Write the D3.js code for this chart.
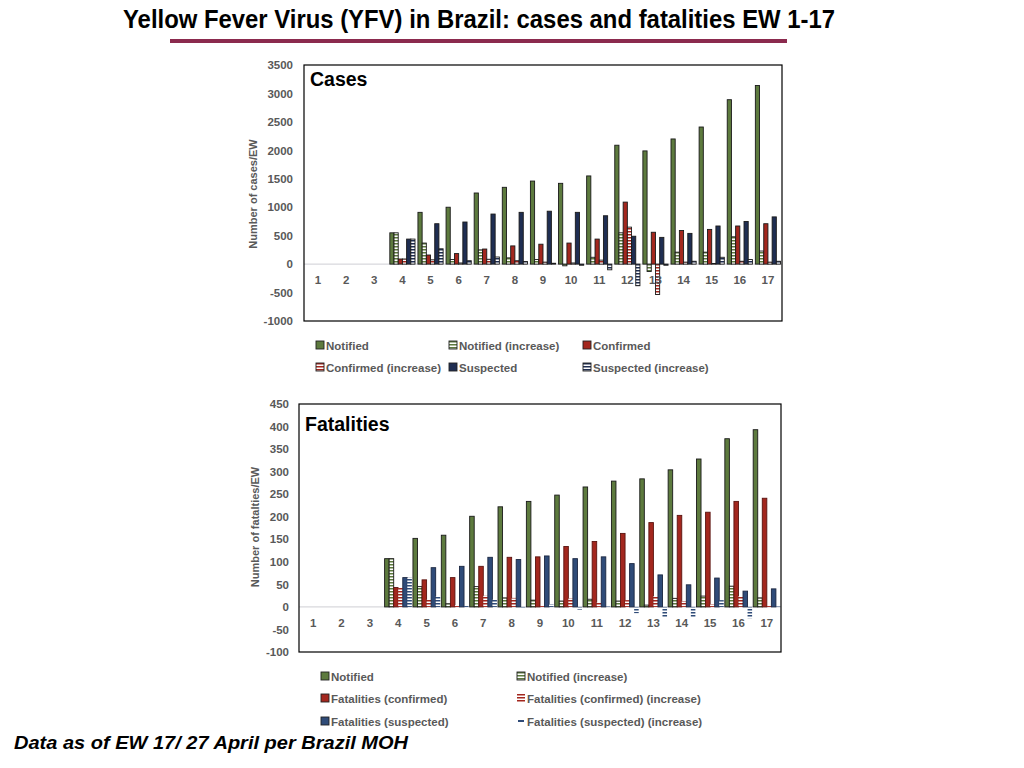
<!DOCTYPE html>
<html>
<head>
<meta charset="utf-8">
<script src="https://cdn.jsdelivr.net/npm/d3@7"></script>
<style>
  body { margin: 0; background: #fff; }
  svg { display: block; }
  text { font-family: "Liberation Sans", Arial, sans-serif; }
</style>
</head>
<body>
<div id="chart"></div>
<script>
const weeks = ["1","2","3","4","5","6","7","8","9","10","11","12","13","14","15","16","17"];

// cases per EW
const casesNotified      = [0,0,0,550,910,1000,1250,1350,1460,1420,1550,2090,1990,2200,2410,2890,3140];
const casesNotifiedInc   = [0,0,0,550,370,80,250,110,80,-30,120,550,-130,210,210,480,230];
const casesConfirmed     = [0,0,0,90,160,185,265,320,350,370,440,1090,560,590,610,670,710];
const casesConfirmedInc  = [0,0,0,90,75,20,85,60,35,20,70,650,-535,35,10,50,35];
const casesSuspected     = [0,0,0,440,710,740,880,910,930,910,850,490,470,540,670,750,830];
const casesSuspectedInc  = [0,0,0,440,270,60,125,45,15,-20,-100,-380,-20,50,120,80,50];
const casesTicks = [-1000,-500,0,500,1000,1500,2000,2500,3000,3500];

// fatalities per EW
const fatNotified      = [0,0,0,107,152,159,201,222,234,248,266,279,284,304,328,373,393];
const fatNotifiedInc   = [0,0,0,107,45,7,45,20,15,13,17,13,4,19,24,46,20];
const fatConfirmed     = [0,0,0,43,60,65,90,110,111,134,145,163,187,203,210,234,241];
const fatConfirmedInc  = [0,0,0,43,16,4,25,20,2,19,10,15,24,13,6,24,2];
const fatSuspected     = [0,0,0,65,87,90,110,105,113,107,111,96,71,49,64,35,40];
const fatSuspectedInc  = [0,0,0,65,23,2,16,-3,6,-6,1,-14,-23,-23,15,-25,1];
const fatTicks = [-100,-50,0,50,100,150,200,250,300,350,400,450];

const green = "#5d7a3e";
const red = "#a3271e";
const navy = "#1f2e52";
const steel = "#2f4b78";
const grey = "#595959";

const svg = d3.select("#chart").append("svg")
    .attr("width", 1024)
    .attr("height", 768);

const defs = svg.append("defs");

function stripes(id, color) {
    const p = defs.append("pattern")
        .attr("id", id)
        .attr("patternUnits", "userSpaceOnUse")
        .attr("width", 4)
        .attr("height", 3);
    p.append("rect").attr("width", 4).attr("height", 3).attr("fill", "#fff");
    p.append("rect").attr("width", 4).attr("height", 1.5).attr("fill", color);
    return `url(#${id})`;
}

const hGreen = stripes("h-green", green);
const hRed = stripes("h-red", red);
const hNavy = stripes("h-navy", navy);
const hSteel = stripes("h-steel", steel);

// title + rule
svg.append("text")
    .attr("x", 479)
    .attr("y", 28)
    .attr("text-anchor", "middle")
    .attr("textLength", 712)
    .attr("lengthAdjust", "spacingAndGlyphs")
    .style("font-size", "26px")
    .style("font-weight", "bold")
    .text("Yellow Fever Virus (YFV) in Brazil: cases and fatalities EW 1-17");

svg.append("rect")
    .attr("x", 170).attr("y", 39)
    .attr("width", 617).attr("height", 4)
    .attr("fill", "#8b2a4e");

svg.append("text")
    .attr("x", 14)
    .attr("y", 749)
    .attr("textLength", 394)
    .attr("lengthAdjust", "spacingAndGlyphs")
    .style("font-size", "19px")
    .style("font-weight", "bold")
    .style("font-style", "italic")
    .text("Data as of EW 17/ 27 April per Brazil MOH");

function drawPanel(cfg) {
    const g = svg.append("g");
    const x = d3.scaleBand().domain(weeks).range([cfg.left, cfg.right]).paddingInner(0).paddingOuter(0);
    const inner = d3.scaleBand().domain(d3.range(cfg.series.length))
        .range([0, x.bandwidth()]).paddingOuter(cfg.barPad).paddingInner(0);
    const y = d3.scaleLinear().domain(cfg.domain).range([cfg.bottom, cfg.top]);

    // zero line
    g.append("line")
        .attr("x1", cfg.left).attr("x2", cfg.right)
        .attr("y1", y(0)).attr("y2", y(0))
        .attr("stroke", "#cfcfd4").attr("stroke-width", 1);

    cfg.series.forEach((s, i) => {
        const rows = weeks.map((w, k) => ({ w, v: s.values[k] })).filter(d => d.v !== 0);
        g.append("g").selectAll("rect")
            .data(rows)
            .join("rect")
            .attr("x", d => x(d.w) + inner(i))
            .attr("width", inner.bandwidth())
            .attr("y", d => y(Math.max(0, d.v)))
            .attr("height", d => Math.abs(y(d.v) - y(0)))
            .attr("fill", s.fill)
            .attr("stroke", s.stroke || "none")
            .attr("stroke-width", 0.9);
    });

    // frame
    g.append("rect")
        .attr("x", cfg.left).attr("y", cfg.top)
        .attr("width", cfg.right - cfg.left).attr("height", cfg.bottom - cfg.top)
        .attr("fill", "none").attr("stroke", "#000").attr("stroke-width", 1.2);

    // y axis labels
    const yAxis = d3.axisLeft(y).tickValues(cfg.ticks).tickFormat(d => String(d)).tickSize(0).tickPadding(0);
    const ya = g.append("g")
        .attr("transform", `translate(${cfg.left - cfg.tickGap},0)`)
        .call(yAxis);
    ya.select(".domain").remove();
    ya.selectAll("text")
        .style("font-family", "'Liberation Sans', Arial, sans-serif")
        .style("font-size", "11.5px")
        .style("font-weight", "bold")
        .attr("fill", grey);

    // week labels
    const xAxis = d3.axisBottom(x).tickSize(0).tickPadding(0);
    const xa = g.append("g")
        .attr("transform", `translate(0,${y(0) + 12})`)
        .call(xAxis);
    xa.select(".domain").remove();
    xa.selectAll("text")
        .style("font-family", "'Liberation Sans', Arial, sans-serif")
        .style("font-size", "11.5px")
        .style("font-weight", "bold")
        .attr("fill", grey);

    g.append("text")
        .attr("transform", `translate(${cfg.yLabelX},${cfg.yLabelY}) rotate(-90)`)
        .attr("text-anchor", "middle")
        .style("font-size", "11px")
        .style("font-weight", "bold")
        .attr("fill", grey)
        .text(cfg.yLabel);

    g.append("text")
        .attr("x", cfg.left + 6)
        .attr("y", cfg.top + cfg.titleDy)
        .style("font-size", "19.5px")
        .style("font-weight", "bold")
        .text(cfg.title);

    // legend
    cfg.series.forEach((s, i) => {
        const pos = cfg.legendPos[i];
        const lg = g.append("g").attr("transform", `translate(${pos[0]},${pos[1]})`);
        if (s.legendDash) {
            lg.append("rect").attr("x", 1).attr("y", 3).attr("width", 6).attr("height", 2).attr("fill", s.legendDash);
        } else {
            lg.append("rect")
                .attr("x", 0).attr("y", 0).attr("width", 8).attr("height", 8)
                .attr("fill", s.fill)
                .attr("stroke", s.legendStroke === undefined ? "#222" : s.legendStroke)
                .attr("stroke-width", 0.9);
        }
        lg.append("text")
            .attr("x", 10).attr("y", 8.5)
            .style("font-size", "11.5px")
            .style("font-weight", "bold")
            .attr("fill", grey)
            .text(s.name);
    });
}

drawPanel({
    left: 304, right: 782, top: 65, bottom: 321,
    domain: [-1000, 3500], ticks: casesTicks,
    barPad: 0.35, tickGap: 11, titleDy: 21,
    title: "Cases",
    yLabel: "Number of cases/EW", yLabelX: 257, yLabelY: 194,
    series: [
        { name: "Notified", values: casesNotified, fill: green, stroke: "#1a1a1a" },
        { name: "Notified (increase)", values: casesNotifiedInc, fill: hGreen, stroke: "#1a1a1a" },
        { name: "Confirmed", values: casesConfirmed, fill: red, stroke: "#1a1a1a" },
        { name: "Confirmed (increase)", values: casesConfirmedInc, fill: hRed, stroke: "#1a1a1a" },
        { name: "Suspected", values: casesSuspected, fill: navy, stroke: "#1a1a1a" },
        { name: "Suspected (increase)", values: casesSuspectedInc, fill: hNavy, stroke: "#1a1a1a" }
    ],
    legendPos: [[316, 341], [449, 341], [583, 341], [316, 363], [449, 363], [583, 363]]
});

drawPanel({
    left: 299, right: 781, top: 404, bottom: 652,
    domain: [-100, 450], ticks: fatTicks,
    barPad: 0.12, tickGap: 10, titleDy: 27,
    title: "Fatalities",
    yLabel: "Number of fatalties/EW", yLabelX: 259, yLabelY: 527,
    series: [
        { name: "Notified", values: fatNotified, fill: green, stroke: "#1a1a1a" },
        { name: "Notified (increase)", values: fatNotifiedInc, fill: hGreen, stroke: "#1a1a1a" },
        { name: "Fatalities (confirmed)", values: fatConfirmed, fill: red, stroke: "#5a1410" },
        { name: "Fatalities (confirmed) (increase)", values: fatConfirmedInc, fill: hRed, legendStroke: "none" },
        { name: "Fatalities (suspected)", values: fatSuspected, fill: steel, stroke: "#1a2640" },
        { name: "Fatalities (suspected) (increase)", values: fatSuspectedInc, fill: hSteel, legendDash: steel }
    ],
    legendPos: [[321, 672], [517, 672], [321, 694], [517, 694], [321, 717], [517, 717]]
});
</script>
</body>
</html>
